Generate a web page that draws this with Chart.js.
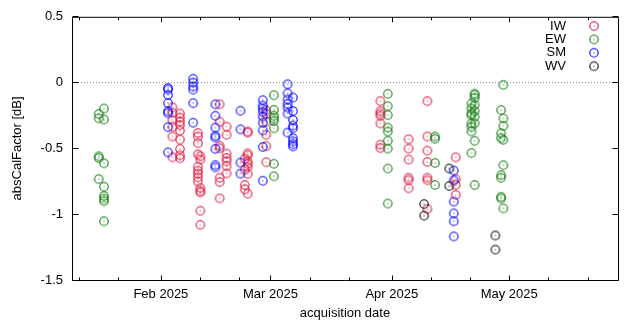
<!DOCTYPE html>
<html>
<head>
<meta charset="utf-8">
<script src="https://cdn.jsdelivr.net/npm/chart.js@4.4.1/dist/chart.umd.min.js"></script>
<style>
  html, body { margin: 0; padding: 0; background: #ffffff; }
  #wrap { width: 624px; height: 320px; }
</style>
</head>
<body>
<div id="wrap"><canvas id="c" width="624" height="320"></canvas></div>
<script>
// ---- acquisition dates (UTC) and absCalFactor values [dB] per mode ----
const iwDates = ['2025-02-03T23:00','2025-02-05T21:00','2025-02-10T11:00','2025-02-11T02:00',
  '2025-02-16T00:30','2025-02-17T19:00','2025-02-22T11:00','2025-02-23T04:00','2025-02-27T22:00',
  '2025-03-29T02:00','2025-04-05T07:00','2025-04-10T02:00','2025-04-17T08:00'];
const iwValues = [
  [-0.188,-0.229,-0.286,-0.335,-0.410,-0.568],
  [-0.235,-0.267,-0.297,-0.323,-0.365,-0.432,-0.504,-0.553,-0.575],
  [-0.383,-0.410,-0.460,-0.545,-0.639,-0.669,-0.692,-0.720,-0.752],
  [-0.560,-0.585,-0.801,-0.823,-0.836,-0.974,-1.081],
  [-0.165,-0.297,-0.480,-0.498,-0.723,-0.756,-0.880],
  [-0.335,-0.397,-0.540,-0.573,-0.598,-0.635,-0.690],
  [-0.579,-0.660,-0.778,-0.811],
  [-0.372,-0.380,-0.538,-0.553,-0.598,-0.618,-0.643,-0.695,-0.844],
  [-0.211,-0.237,-0.297,-0.397,-0.483,-0.605],
  [-0.141,-0.217,-0.235,-0.252,-0.310,-0.472,-0.497],
  [-0.430,-0.502,-0.585,-0.723,-0.741,-0.803],
  [-0.141,-0.410,-0.517,-0.603,-0.723,-0.742,-0.961],
  [-0.568,-0.733,-0.778,-0.853]
];

const ewDates = ['2025-01-16T03:00','2025-01-17T11:00','2025-03-01T21:00','2025-03-30T23:30',
  '2025-04-12T01:00','2025-04-21T08:00','2025-04-22T04:00','2025-04-28T22:00','2025-04-29T12:00'];
const ewValues = [
  [-0.239,-0.272,-0.560,-0.573,-0.733],
  [-0.197,-0.280,-0.613,-0.791,-0.861,-0.881,-0.901,-1.054],
  [-0.096,-0.207,-0.252,-0.272,-0.292,-0.347,-0.617,-0.712],
  [-0.086,-0.179,-0.247,-0.342,-0.372,-0.442,-0.502,-0.653,-0.919],
  [-0.410,-0.427,-0.611,-0.778],
  [-0.159,-0.197,-0.235,-0.247,-0.310,-0.335,-0.372,-0.535],
  [-0.084,-0.096,-0.117,-0.171,-0.217,-0.259,-0.310,-0.442,-0.778],
  [-0.209,-0.385,-0.423,-0.703,-0.723,-0.868,-0.881],
  [-0.017,-0.272,-0.329,-0.435,-0.628,-0.956]
];

const smDates = ['2025-02-02T20:00','2025-02-09T06:00','2025-02-14T22:00','2025-02-21T08:00',
  '2025-02-27T01:00','2025-03-05T09:00','2025-03-06T18:00','2025-04-16T20:00'];
const smValues = [
  [-0.041,-0.053,-0.094,-0.156,-0.217,-0.232,-0.338,-0.530],
  [0.029,0.000,-0.030,-0.053,-0.156,-0.305],
  [-0.165,-0.252,-0.342,-0.404,-0.418,-0.504,-0.628,-0.644],
  [-0.214,-0.355,-0.608,-0.692],
  [-0.134,-0.175,-0.197,-0.222,-0.259,-0.305,-0.363,-0.489,-0.746],
  [-0.013,-0.081,-0.128,-0.162,-0.190,-0.235,-0.380],
  [-0.114,-0.216,-0.284,-0.327,-0.347,-0.423,-0.447,-0.468,-0.485],
  [-0.668,-0.743,-0.904,-0.994,-1.054,-1.169]
];

const wvDates = ['2025-04-09T06:00','2025-04-15T16:00','2025-04-27T11:00'];
const wvValues = [
  [-0.923,-1.011],
  [-0.653,-0.786],
  [-1.162,-1.269]
];

// ---- axes ----
const xRange = ['2025-01-09T07:00', '2025-05-28T19:00'];
const majorTickDates = ['2025-02-01','2025-03-01','2025-04-01','2025-05-01'];
const majorTickLabels = ['Feb 2025','Mar 2025','Apr 2025','May 2025'];
const minorTickDates = ['2025-01-11','2025-01-21','2025-02-11','2025-02-21','2025-03-11',
  '2025-03-21','2025-04-11','2025-04-21','2025-05-11','2025-05-21'];
const yTicks = [-1.5, -1, -0.5, 0, 0.5];

const modeNames = ['IW', 'EW', 'SM', 'WV'];
const modeColors = ['#dc143c', '#0f7a0f', '#0000ff', '#000000'];

// days since 2025-01-01 00:00 UTC
const EPOCH = Date.UTC(2025, 0, 1);
function dayOf(s) {
  const [d, t] = s.split('T');
  const [Y, M, D] = d.split('-').map(Number);
  const [h, m] = (t || '00:00').split(':').map(Number);
  return (Date.UTC(Y, M - 1, D, h, m) - EPOCH) / 86400000;
}
function toPoints(dates, values) {
  const pts = [];
  dates.forEach((d, i) => values[i].forEach(v => pts.push({ x: dayOf(d), y: v })));
  return pts;
}

// open circle with a centre dot
function marker(color) {
  const c = document.createElement('canvas');
  c.width = 12; c.height = 12;
  const g = c.getContext('2d');
  g.strokeStyle = color;
  g.lineWidth = 1.1;
  g.beginPath();
  g.arc(6, 6, 4.2, 0, Math.PI * 2);
  g.stroke();
  g.fillStyle = color;
  g.fillRect(5.5, 5.5, 1, 1);
  return c;
}
const markers = modeColors.map(marker);

const FONT = "'Liberation Sans', Arial, sans-serif";
Chart.defaults.font.family = FONT;
Chart.defaults.font.size = 13;
Chart.defaults.color = '#000000';

const majorDays = majorTickDates.map(dayOf);
const minorDays = minorTickDates.map(dayOf);

// frame, inward tick marks, dotted zero line and key
const framePlugin = {
  id: 'frame',
  beforeDatasetsDraw(chart) {
    const { ctx, chartArea: a, scales: { y } } = chart;
    const y0 = y.getPixelForValue(0);
    ctx.save();
    ctx.strokeStyle = '#8a8a8a';
    ctx.lineWidth = 1;
    ctx.setLineDash([1, 2]);
    ctx.beginPath();
    ctx.moveTo(a.left, y0);
    ctx.lineTo(a.right, y0);
    ctx.stroke();
    ctx.restore();
  },
  afterDraw(chart) {
    const { ctx, chartArea: a, scales: { x, y } } = chart;
    const L = a.left + 0.5, R = a.right + 0.5, T = a.top + 0.5, B = a.bottom + 0.5;
    ctx.save();
    ctx.strokeStyle = '#000000';
    ctx.lineWidth = 1;
    ctx.beginPath();
    ctx.rect(L, T, R - L, B - T);
    const xt = (d, len) => {
      const px = Math.round(x.getPixelForValue(d)) + 0.5;
      ctx.moveTo(px, B); ctx.lineTo(px, B - len);
      ctx.moveTo(px, T); ctx.lineTo(px, T + len);
    };
    majorDays.forEach(d => xt(d, 5));
    minorDays.forEach(d => xt(d, 3));
    yTicks.forEach(v => {
      const py = Math.round(y.getPixelForValue(v) - 0.5) + 0.5;
      ctx.moveTo(L, py); ctx.lineTo(L + 6, py);
      ctx.moveTo(R, py); ctx.lineTo(R - 6, py);
    });
    ctx.stroke();

    // key
    ctx.font = '13px ' + FONT;
    ctx.textAlign = 'right';
    ctx.textBaseline = 'middle';
    ctx.fillStyle = '#000000';
    modeNames.forEach((n, i) => {
      const ky = 26 + i * 13.4;
      ctx.fillText(n, 566, ky);
      ctx.drawImage(markers[i], 594 - 6, ky - 6);
    });
    ctx.restore();
  }
};

const seriesDates = [iwDates, ewDates, smDates, wvDates];
const seriesValues = [iwValues, ewValues, smValues, wvValues];

new Chart(document.getElementById('c'), {
  type: 'scatter',
  data: {
    datasets: modeNames.map((n, i) => ({
      label: n,
      data: toPoints(seriesDates[i], seriesValues[i]),
      pointStyle: markers[i],
      pointRadius: 5,
      borderColor: modeColors[i],
      backgroundColor: 'rgba(0,0,0,0)',
      showLine: false,
      order: 3 - i
    }))
  },
  options: {
    responsive: false,
    animation: false,
    devicePixelRatio: 1,
    layout: { padding: { left: 0, right: 1, top: 14, bottom: 0 } },
    plugins: { legend: { display: false }, tooltip: { enabled: false } },
    scales: {
      x: {
        type: 'linear',
        min: dayOf(xRange[0]),
        max: dayOf(xRange[1]),
        grid: { display: false, drawTicks: false },
        border: { display: false },
        afterBuildTicks(scale) {
          scale.ticks = majorDays.concat(minorDays).sort((p, q) => p - q).map(v => ({ value: v }));
        },
        afterFit(scale) { scale.height = 40; },
        ticks: {
          autoSkip: false,
          maxRotation: 0,
          padding: 7,
          callback(v) {
            const k = majorDays.findIndex(d => Math.abs(d - v) < 1e-6);
            return k >= 0 ? majorTickLabels[k] : '';
          }
        },
        title: {
          display: true,
          text: 'acquisition date',
          font: { size: 13, lineHeight: 1 },
          padding: { top: 0, bottom: 0 }
        }
      },
      y: {
        min: -1.5,
        max: 0.5,
        grid: { display: false, drawTicks: false },
        border: { display: false },
        afterBuildTicks(scale) { scale.ticks = yTicks.map(v => ({ value: v })); },
        afterFit(scale) { scale.width = 72; },
        ticks: {
          padding: 9,
          callback(v) { return String(v); }
        },
        title: {
          display: true,
          text: 'absCalFactor [dB]',
          font: { size: 13, lineHeight: 1 },
          padding: { top: 11, bottom: 0 }
        }
      }
    }
  },
  plugins: [framePlugin]
});
</script>
</body>
</html>
